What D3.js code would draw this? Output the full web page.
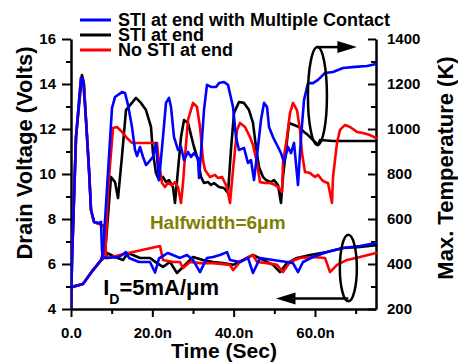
<!DOCTYPE html>
<meta charset="utf-8">
<style>
body { margin: 0; background: #fff; }
svg { font-family: 'Liberation Sans', Arial, sans-serif; font-weight: bold; }
.axis .domain { stroke: #000; stroke-width: 2.5px; }
.axis line { stroke: #000; stroke-width: 2px; }
.axis text { font-size: 15px; font-weight: bold; fill: #000; }
.curve { fill: none; stroke-width: 2.6px; stroke-linejoin: round; stroke-linecap: round; }
</style>
<body>
<div id="chart"></div>
<script src="https://d3js.org/d3.v7.min.js"></script>
<script>
// chart size
var width = 458,
    height = 364;

// series names and colours (legend order)
var seriesNames = ["STI at end with Multiple Contact", "STI at end", "No STI at end"];
var seriesColors = ["#0000ff", "#000000", "#ff0000"];

// tick values
var timeTicks = [0, 20, 40, 60];
var timeLabels = ["0.0", "20.0n", "40.0n", "60.0n"];
var voltTicks = [4, 6, 8, 10, 12, 14, 16];
var tempTicks = [200, 400, 600, 800, 1000, 1200, 1400];

// max temperature [time ns, K] -> right axis
var tempMulti = [[0,298],[0.5,298],[2.95,311],[5.41,373],[7.38,418],[7.87,449],[10.08,1093],[10.82,1142],[12.54,1164],[13.28,1160],[14.02,1107],[15.0,1009],[15.74,907],[16.23,880],[16.97,920],[17.71,876],[18.44,840],[18.93,849],[20.16,876],[20.9,938],[21.39,818],[21.64,773],[22.62,964],[23.36,1116],[24.1,1138],[24.59,1098],[25.33,964],[26.31,907],[27.05,920],[27.79,862],[28.77,898],[29.51,876],[30.25,893],[31.23,871],[31.48,782],[31.97,893],[32.7,1084],[33.44,1196],[34.43,1187],[35.66,1187],[36.39,1204],[37.62,1209],[38.61,1196],[39.84,1098],[40.57,964],[41.31,907],[42.54,916],[43.52,849],[44.26,862],[45.0,773],[45.98,920],[46.72,1040],[47.46,1116],[48.2,1098],[48.69,1009],[49.67,964],[50.9,920],[51.64,893],[52.38,853],[53.36,920],[54.1,893],[54.84,938],[55.82,751],[56.56,964],[57.3,1129],[58.28,1204],[59.51,1204],[60.74,1218],[62.46,1249],[64.43,1253],[66.89,1271],[69.84,1276],[72.79,1280],[75,1289]];
var tempSTI = [[0,298],[2.95,311],[5.41,373],[7.38,415],[8.11,427],[8.61,500],[9.84,787],[10.82,764],[11.56,693],[12.54,880],[13.52,1084],[15.98,1138],[17.21,1116],[18.44,1084],[19.67,1009],[20.16,893],[20.9,804],[21.64,773],[22.62,787],[23.36,764],[24.1,773],[25.08,742],[25.57,671],[26.31,818],[27.05,964],[27.79,1040],[28.77,1027],[29.51,973],[30.25,920],[31.23,862],[31.97,787],[32.7,760],[33.69,764],[34.43,751],[35.16,760],[36.39,742],[37.62,738],[38.61,716],[39.34,907],[40.08,1071],[41.31,1120],[42.54,1116],[43.77,1084],[44.75,1027],[45.49,920],[46.23,831],[47.21,787],[47.95,773],[49.18,764],[49.92,773],[50.9,751],[51.64,671],[52.13,787],[52.87,907],[53.61,1027],[54.84,1018],[56.07,1009],[57.3,987],[58.28,973],[59.51,951],[60.74,929],[61.23,951],[64.43,947],[75,947]];
var tempNoSTI = [[0,298],[2.95,311],[5.41,373],[7.38,418],[8.11,431],[8.61,507],[9.1,729],[10.33,1004],[11.31,1009],[12.54,987],[13.77,960],[15.0,938],[21.15,938],[21.39,893],[21.89,818],[22.38,760],[23.11,742],[23.85,760],[24.84,751],[25.57,764],[26.31,742],[27.05,671],[27.54,760],[28.03,876],[28.77,1040],[30.0,1116],[30.98,1098],[31.72,1009],[32.46,862],[32.95,818],[34.18,787],[35.41,796],[36.15,782],[37.13,787],[38.36,742],[39.1,671],[39.84,818],[40.82,996],[41.56,1027],[42.79,1009],[44.02,964],[44.75,929],[45.74,849],[46.48,764],[47.7,760],[48.93,760],[50.16,751],[50.9,742],[51.89,720],[52.13,849],[53.11,964],[53.85,1071],[54.59,1116],[55.57,1084],[56.31,996],[56.8,893],[57.54,809],[58.77,804],[60.0,787],[60.74,796],[61.72,773],[62.46,764],[63.2,760],[64.18,671],[64.43,787],[65.41,938],[66.15,996],[67.38,1018],[68.61,1009],[70.33,987],[71.8,982],[73.52,973],[75,960]];

// drain voltage [time ns, V] -> left axis
var voltMulti = [[0,4],[0.25,6.2],[1.23,11.64],[2.46,14.27],[2.95,14.2],[3.69,12.4],[4.43,10.18],[4.92,8.4],[5.66,7.87],[6.89,7.82],[7.38,7.87],[7.62,6.62],[7.87,6.31],[8.85,6.27],[11.8,6.31],[13.52,6.53],[14.27,6.27],[16.72,6.09],[19.43,6.09],[20.66,5.62],[21.64,6.25],[23.85,6.49],[26.8,6.27],[28.52,6.4],[30.0,6.18],[31.72,5.64],[33.44,6.27],[34.92,6.31],[36.64,6.4],[38.36,6.53],[39.1,6.18],[41.56,6.09],[43.52,6.27],[44.75,5.6],[46.48,6.27],[49.67,6.18],[53.11,6.09],[54.59,6.04],[55.82,5.64],[57.05,6.09],[59.51,6.31],[62.95,6.53],[66.89,6.71],[71.07,6.8],[75,6.93]];
var voltSTI = [[0,4],[0.25,6.2],[1.23,11.64],[2.7,14.4],[3.2,14.0],[3.69,12.4],[4.43,10.18],[4.92,8.4],[5.66,7.87],[7.38,7.75],[8.11,7.69],[8.61,6.27],[8.85,6.49],[10.82,6.31],[12.79,6.18],[14.02,6.49],[16.97,6.27],[19.43,6.27],[21.15,6.04],[22.62,5.87],[24.34,6.09],[26.07,5.6],[27.54,5.87],[30.0,6.31],[32.46,6.18],[34.92,6.09],[37.38,6.04],[39.84,5.96],[42.3,6.18],[44.75,6.4],[47.21,6.18],[49.67,5.96],[51.39,5.64],[53.11,6.04],[55.57,6.27],[58.77,6.4],[62.95,6.53],[66.89,6.71],[71.07,6.76],[75,6.84]];
var voltNoSTI = [[0,4],[0.25,6.2],[1.23,11.64],[2.46,14.27],[3.2,13.9],[3.69,12.4],[4.43,10.18],[4.92,8.4],[5.66,7.87],[7.38,7.75],[8.36,7.6],[8.61,6.27],[8.85,6.27],[15.25,6.53],[21.89,6.8],[22.62,6.18],[25.08,6.09],[26.8,6.09],[27.54,5.82],[29.26,6.09],[31.72,6.04],[34.92,6.04],[39.1,5.96],[39.84,5.73],[41.56,6.09],[44.75,6.4],[45.74,6.09],[48.2,6.04],[50.66,5.96],[52.13,5.64],[53.85,6.09],[56.31,6.27],[59.51,6.31],[62.46,6.27],[63.69,5.64],[65.41,5.96],[67.87,6.18],[71.07,6.31],[75,6.49]];

var svg = d3.select("#chart").append("svg")
    .attr("width", width)
    .attr("height", height);

svg.append("rect").attr("width", width).attr("height", height).attr("fill", "#fff");

// scales
var x = d3.scaleLinear().domain([0, 75]).range([71, 376]);
var yV = d3.scaleLinear().domain([4, 16]).range([309, 39]);
var yT = d3.scaleLinear().domain([200, 1400]).range([309, 39]);

// minor ticks first (no labels)
svg.append("g").attr("class", "axis")
    .attr("transform", "translate(71,0)")
    .call(d3.axisLeft(yV).tickValues([5, 7, 9, 11, 13, 15]).tickSize(5).tickFormat(""))
    .select(".domain").remove();
svg.append("g").attr("class", "axis")
    .attr("transform", "translate(376,0)")
    .call(d3.axisRight(yT).tickValues([300, 500, 700, 900, 1100, 1300]).tickSize(-5).tickFormat(""))
    .select(".domain").remove();
svg.append("g").attr("class", "axis")
    .attr("transform", "translate(0,309)")
    .call(d3.axisBottom(x).tickValues([10, 30, 50, 70]).tickSize(5).tickFormat(""))
    .select(".domain").remove();

// main axes
svg.append("g").attr("class", "axis")
    .attr("transform", "translate(71,0)")
    .call(d3.axisLeft(yV).tickValues(voltTicks).tickSize(9).tickSizeOuter(0).tickPadding(6).tickFormat(d3.format("d")));

svg.append("g").attr("class", "axis")
    .attr("transform", "translate(376,0)")
    .call(d3.axisRight(yT).tickValues(tempTicks).tickSize(-8).tickSizeOuter(0).tickPadding(11).tickFormat(d3.format("d")));

svg.append("g").attr("class", "axis")
    .attr("transform", "translate(0,309)")
    .call(d3.axisBottom(x).tickValues(timeTicks).tickSize(8).tickSizeOuter(0).tickPadding(10)
      .tickFormat(function(d, i) { return timeLabels[i]; }));

// clip to plot area
svg.append("clipPath").attr("id", "clip")
  .append("rect").attr("x", 71).attr("y", 30).attr("width", 307).attr("height", 279);

var lineV = d3.line().x(function(d) { return x(d[0]); }).y(function(d) { return yV(d[1]); });
var lineT = d3.line().x(function(d) { return x(d[0]); }).y(function(d) { return yT(d[1]); });

var plot = svg.append("g").attr("clip-path", "url(#clip)");

// black, red, then blue on top
var curves = [
  { data: voltSTI, line: lineV, color: seriesColors[1] },
  { data: tempSTI, line: lineT, color: seriesColors[1] },
  { data: voltNoSTI, line: lineV, color: seriesColors[2] },
  { data: tempNoSTI, line: lineT, color: seriesColors[2] },
  { data: voltMulti, line: lineV, color: seriesColors[0] },
  { data: tempMulti, line: lineT, color: seriesColors[0] }
];

plot.selectAll("path.curve")
    .data(curves)
  .enter().append("path")
    .attr("class", "curve")
    .attr("d", function(d) { return d.line(d.data); })
    .style("stroke", function(d) { return d.color; });

// legend
var legend = svg.append("g").selectAll("g")
    .data(seriesNames)
  .enter().append("g")
    .attr("transform", function(d, i) { return "translate(80," + (20 + i * 15) + ")"; });

legend.append("line")
    .attr("x1", 0).attr("x2", 31)
    .attr("stroke", function(d, i) { return seriesColors[i]; })
    .attr("stroke-width", 3);

legend.append("text")
    .attr("x", 38).attr("y", 6)
    .style("font-size", "18px")
    .text(function(d) { return d; });

// axis titles
svg.append("text")
    .attr("transform", "translate(32,153) rotate(-90)")
    .attr("text-anchor", "middle")
    .style("font-size", "22px")
    .text("Drain Voltage (Volts)");

svg.append("text")
    .attr("transform", "translate(453,168) rotate(-90)")
    .attr("text-anchor", "middle")
    .style("font-size", "22px")
    .text("Max. Temperature (K)");

svg.append("text")
    .attr("x", 224).attr("y", 358)
    .attr("text-anchor", "middle")
    .style("font-size", "21px")
    .text("Time (Sec)");

// annotations
svg.append("text")
    .attr("x", x(19.4)).attr("y", yV(7.56))
    .style("font-size", "19px")
    .style("fill", "#808000")
    .text("Halfwidth=6\u03bcm");

var id = svg.append("text")
    .attr("x", x(7.9)).attr("y", yV(4.62))
    .style("font-size", "22px");
id.append("tspan").text("I");
id.append("tspan").attr("dy", 9).style("font-size", "14px").text("D");
id.append("tspan").attr("dy", -9).text("=5mA/\u03bcm");

// ellipse marking the temperature curves, arrow to the right axis
svg.append("ellipse")
    .attr("cx", x(60.6)).attr("cy", yT(1147))
    .attr("rx", 9.5).attr("ry", yT(1147) - yT(1365))
    .attr("fill", "none").attr("stroke", "#000").attr("stroke-width", 2.5);
svg.append("line")
    .attr("x1", x(60.5)).attr("x2", x(66.5))
    .attr("y1", yT(1364)).attr("y2", yT(1364))
    .attr("stroke", "#000").attr("stroke-width", 2.5);
svg.append("path")
    .attr("d", d3.line()([[x(65.5), yT(1364) - 6], [x(70.3), yT(1364)], [x(65.5), yT(1364) + 6]]))
    .attr("fill", "#000");

// ellipse marking the voltage curves, arrow to the left axis
svg.append("ellipse")
    .attr("cx", x(68.2)).attr("cy", yV(5.82))
    .attr("rx", 8.5).attr("ry", yV(5.82) - yV(7.3))
    .attr("fill", "none").attr("stroke", "#000").attr("stroke-width", 2.5);
svg.append("line")
    .attr("x1", x(68.2)).attr("x2", x(54))
    .attr("y1", yV(4.47)).attr("y2", yV(4.47))
    .attr("stroke", "#000").attr("stroke-width", 2.5);
svg.append("path")
    .attr("d", d3.line()([[x(55.2), yV(4.47) - 6], [x(50.4), yV(4.47)], [x(55.2), yV(4.47) + 6]]))
    .attr("fill", "#000");
</script>
</body>
